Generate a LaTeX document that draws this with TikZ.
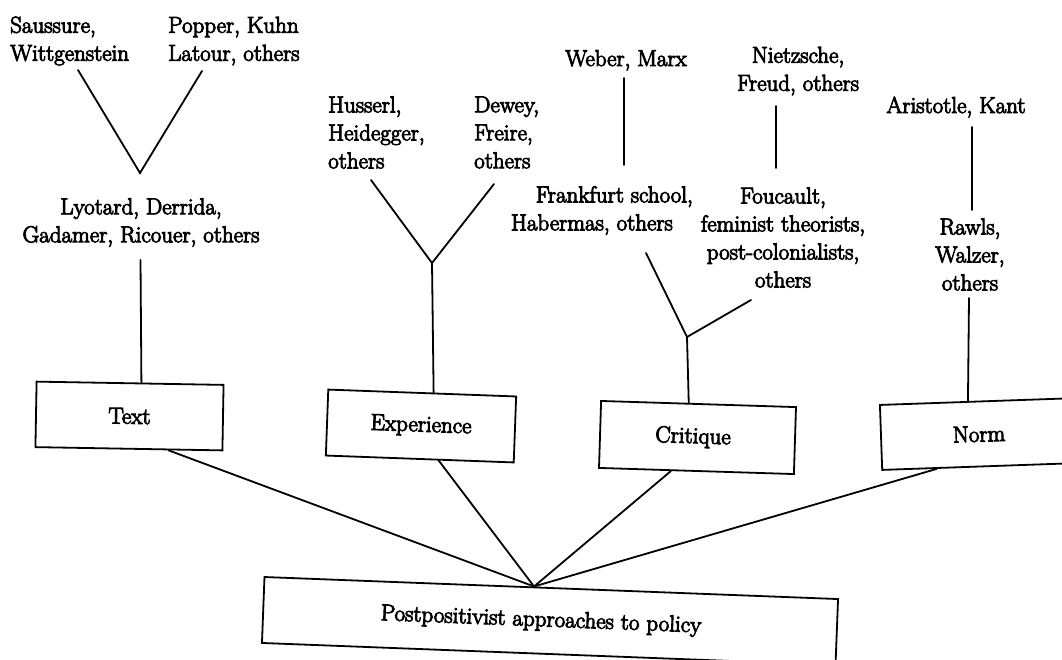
\documentclass[tikz,border=0pt]{standalone}
\usepackage{fontspec}
\setmainfont{Latin Modern Roman}[FakeBold=4]
\usetikzlibrary{calc}
\tikzset{
  lbl/.style={inner sep=0pt, font=\fontsize{23}{28}\selectfont},
  box/.style={draw, line width=1.8pt, inner sep=0pt, font=\fontsize{23}{28}\selectfont},
  link/.style={line width=1.8pt, line cap=round, line join=miter},
}
\begin{document}
\begin{tikzpicture}[x=1pt,y=-1pt]
\useasboundingbox (0,0) rectangle (1062,659);
\clip (0,0) rectangle (1062,659);
\fill[white] (0,0) rectangle (1062,659);

% thinkers
\node[lbl, align=left, anchor=west] (saussure) at (10,41) {Saussure,\\Wittgenstein};
\node[lbl, align=left, anchor=west] (popper) at (168,41) {Popper, Kuhn\\Latour, others};
\node[lbl, align=center] (lyotard) at (141,222.5) {Lyotard, Derrida,\\Gadamer, Ricouer, others};
\node[lbl, align=left, anchor=west] (husserl) at (328,132.5) {Husserl,\\Heidegger,\\others};
\node[lbl, align=left, anchor=west] (dewey) at (474,132.5) {Dewey,\\Freire,\\others};
\node[lbl, anchor=base] (weber) at (626,66) {Weber, Marx};
\node[lbl, align=center] (nietzsche) at (798,71) {Nietzsche,\\Freud, others};
\node[lbl, align=right, anchor=east] (frankfurt) at (693,210.5) {Frankfurt school,\\Habermas, others\hspace{20pt}\mbox{}};
\node[lbl, align=center] (foucault) at (783,237.5) {Foucault,\\feminist theorists,\\post-colonialists,\\others};
\node[lbl, anchor=base] (aristotle) at (956,113) {Aristotle, Kant};
\node[lbl, align=center] (rawls) at (970,254.5) {Rawls,\\Walzer,\\others};

% approaches
\node[box, minimum width=187pt, minimum height=65.5pt, rotate=-1] (text) at (129.5,416) {Text};
\node[box, minimum width=188pt, minimum height=66pt, rotate=-2.1] (experience) at (421,426) {Experience};
\node[box, minimum width=195pt, minimum height=67pt, rotate=-1.8] (critique) at (697.5,437.5) {Critique\hspace{9pt}\mbox{}};
\node[box, minimum width=196pt, minimum height=65pt, rotate=2] (norm) at (979,434) {Norm};
\node[box, minimum width=574pt, minimum height=66pt, rotate=-2.2] (policy) at (550,621) {Postpositivist approaches to policy\hspace{18pt}\mbox{}};

% line ends
\coordinate (v1) at (78,70);
\coordinate (vfork) at (140,173);
\coordinate (v2) at (202,71);
\coordinate (ltop) at (140.5,260);
\coordinate (y1) at (371,180);
\coordinate (yfork) at (432,263);
\coordinate (y2) at (494,184);
\coordinate (w1) at (624,78);
\coordinate (w2) at (624,165);
\coordinate (n1) at (776,106);
\coordinate (n2) at (776,168);
\coordinate (c1) at (646,253);
\coordinate (cfork) at (687,337);
\coordinate (c2) at (751,300);
\coordinate (a1) at (972,127);
\coordinate (a2) at (972,210);
\coordinate (r1) at (969,298);
\coordinate (hub) at ($(policy.north west)!0.47!(policy.north east)$);

% lineages
\draw[link] (v1) -- (vfork) -- (v2);
\draw[link] (ltop) -- ($(text.north west)!0.56!(text.north east)$);
\draw[link] (y1) -- (yfork) -- (y2);
\draw[link] (yfork) -- ($(experience.north west)!0.56!(experience.north east)$);
\draw[link] (w1) -- (w2);
\draw[link] (n1) -- (n2);
\draw[link] (c1) -- (cfork) -- (c2);
\draw[link] (cfork) -- ($(critique.north west)!0.45!(critique.north east)$);
\draw[link] (a1) -- (a2);
\draw[link] (r1) -- ($(norm.north west)!0.45!(norm.north east)$);

% approaches feeding the common root
\draw[link] ($(text.south west)!0.71!(text.south east)$) -- (hub);
\draw[link] ($(experience.south west)!0.60!(experience.south east)$) -- (hub);
\draw[link] ($(critique.south west)!0.37!(critique.south east)$) -- (hub);
\draw[link] ($(norm.south west)!0.28!(norm.south east)$) -- (hub);
\end{tikzpicture}
\end{document}
